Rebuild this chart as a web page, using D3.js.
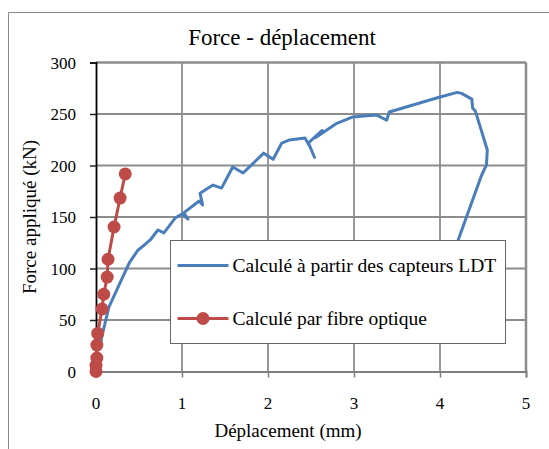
<!DOCTYPE html>
<html><head><meta charset="utf-8">
<script src="https://cdn.jsdelivr.net/npm/d3@7"></script>
</head><body style="margin:0;background:#fff"><div id="chart"></div>
<script>
const title = "Force - déplacement";
const xLabel = "Déplacement (mm)";
const yLabel = "Force appliqué (kN)";
const seriesNames = ["Calculé à partir des capteurs LDT", "Calculé par fibre optique"];
const xTicks = [0, 1, 2, 3, 4, 5];
const yTicks = [0, 50, 100, 150, 200, 250, 300];

// LDT series (displacement mm, force kN)
const ldtX = [0.05, 0.07, 0.15, 0.23, 0.31, 0.36, 0.39, 0.49, 0.55, 0.63, 0.72, 0.79, 0.92, 1.00, 1.07, 1.02, 1.20, 1.24, 1.21, 1.36, 1.46, 1.59, 1.71, 1.95, 2.06, 2.16, 2.25, 2.43, 2.49, 2.54, 2.47, 2.63, 2.55, 2.80, 2.98, 3.26, 3.38, 3.41, 4.00, 4.20, 4.25, 4.37, 4.38, 4.41, 4.49, 4.55, 4.54, 4.48, 4.22, 4.05];
const ldtY = [26, 34.5, 62.6, 77, 91.7, 100.5, 106, 118, 122, 127.7, 137.4, 134.5, 149, 152.9, 148, 154, 165.5, 161.7, 173, 181, 178, 198.5, 192.7, 212, 206, 221.8, 224.8, 226.7, 218, 208, 222, 234, 227, 241, 247, 249, 244, 252, 266.5, 271, 270, 264.5, 255.8, 253, 231.5, 215, 200.5, 189.8, 129.6, 93.7];

// Optical fibre series
const fibreX = [0, 0, 0.01, 0.01, 0.02, 0.07, 0.09, 0.13, 0.14, 0.21, 0.28, 0.34];
const fibreY = [0, 6, 13, 25.7, 37, 60.7, 75, 91.7, 109, 140.3, 168.4, 191.8];

const FONT = '"Liberation Serif", "Times New Roman", serif';
const W = 549, H = 449;
const m = {left: 96, right: 23, top: 62.5, bottom: 77.5};
const svg = d3.select("#chart").append("svg").attr("width", W).attr("height", H).style("display", "block");

// outer chart border
svg.append("path").attr("d", `M8.5,${H} V12.5 H${W}`).attr("fill", "none").attr("stroke", "#8a8a8a").attr("stroke-width", 1);

const x = d3.scaleLinear().domain([0, 5]).range([m.left, W - m.right]);
const y = d3.scaleLinear().domain([0, 300]).range([H - m.bottom, m.top]);

// gridlines
const grid = svg.append("g");
grid.selectAll(".vg").data(xTicks.filter(d => d > 0)).enter().append("line")
  .attr("x1", d => x(d)).attr("x2", d => x(d)).attr("y1", y(0)).attr("y2", y(300))
  .attr("stroke", "#8c8c8c").attr("stroke-width", d => d === 5 ? 2.5 : 1.8);
grid.selectAll(".hg").data(yTicks.filter(d => d > 0)).enter().append("line")
  .attr("x1", x(0)).attr("x2", x(5)).attr("y1", d => y(d)).attr("y2", d => y(d))
  .attr("stroke", "#8c8c8c").attr("stroke-width", d => d === 300 ? 2.5 : 1.8);

// axes (lines + ticks from d3.axis)
const xAxis = svg.append("g").attr("transform", `translate(0,${y(0)})`)
  .call(d3.axisBottom(x).tickValues(xTicks).tickSize(6).tickFormat(() => ""));
xAxis.select(".domain").attr("stroke", "#7f7f7f").attr("stroke-width", 1.8);
xAxis.selectAll(".tick line").attr("stroke", "#7f7f7f").attr("stroke-width", 1.5);
xAxis.selectAll(".tick text").remove();

const yAxis = svg.append("g").attr("transform", `translate(${x(0)},0)`)
  .call(d3.axisLeft(y).tickValues(yTicks).tickSize(6).tickFormat(() => ""));
yAxis.select(".domain").attr("stroke", "#000").attr("stroke-width", 1.8);
yAxis.selectAll(".tick line").attr("stroke", "#222").attr("stroke-width", 1.5);
yAxis.selectAll(".tick text").remove();

// tick labels in a serif group
const labels = svg.append("g").attr("font-family", FONT).attr("font-size", 17).attr("fill", "#000");
labels.selectAll(".xl").data(xTicks).enter().append("text")
  .attr("x", d => x(d)).attr("y", y(0) + 37).attr("text-anchor", "middle")
  .attr("font-family", FONT).style("font-family", FONT).text(d => d3.format("d")(d));
labels.selectAll(".yl").data(yTicks).enter().append("text")
  .attr("x", x(0) - 20).attr("y", d => y(d) + 6).attr("text-anchor", "end")
  .attr("font-family", FONT).style("font-family", FONT).text(d => d3.format("d")(d));

// series
const ldt = ldtX.map((d, i) => [d, ldtY[i]]);
const fibre = fibreX.map((d, i) => [d, fibreY[i]]);
const line = d3.line().x(d => x(d[0])).y(d => y(d[1]));

svg.append("path").datum(ldt).attr("d", line).attr("fill", "none")
  .attr("stroke", "#4a7ebb").attr("stroke-width", 3).attr("stroke-linejoin", "round").attr("stroke-linecap", "round");

svg.append("path").datum(fibre).attr("d", line).attr("fill", "none")
  .attr("stroke", "#be4b48").attr("stroke-width", 3);
svg.selectAll(".pt").data(fibre).enter().append("circle")
  .attr("cx", d => x(d[0])).attr("cy", d => y(d[1])).attr("r", 6.5).attr("fill", "#be4b48");

// legend
const lg = svg.append("g").attr("transform", "translate(170.5,240.5)");
lg.append("rect").attr("width", 335).attr("height", 103).attr("fill", "#fff").attr("stroke", "#666").attr("stroke-width", 1);
const colors = ["#4a7ebb", "#be4b48"];
const rowY = [25, 78];
seriesNames.forEach((name, i) => {
  lg.append("line").attr("x1", 7).attr("x2", 58).attr("y1", rowY[i]).attr("y2", rowY[i])
    .attr("stroke", colors[i]).attr("stroke-width", 3);
  if (i === 1) lg.append("circle").attr("cx", 32.5).attr("cy", rowY[i]).attr("r", 6.5).attr("fill", colors[i]);
  lg.append("text").attr("x", 62).attr("y", rowY[i] + 6).style("font-family", FONT).style("font-size", "19.5px").text(name);
});

// titles
svg.append("text").attr("x", 282).attr("y", 45).attr("text-anchor", "middle").style("font-family", FONT).style("font-size", "23px").text(title);
svg.append("text").attr("x", 288).attr("y", 437).attr("text-anchor", "middle").style("font-family", FONT).style("font-size", "19px").text(xLabel);
svg.append("text").attr("transform", `translate(36,${(y(0) + y(300)) / 2}) rotate(-90)`).attr("text-anchor", "middle").style("font-family", FONT).style("font-size", "19px").text(yLabel);
</script></body></html>
